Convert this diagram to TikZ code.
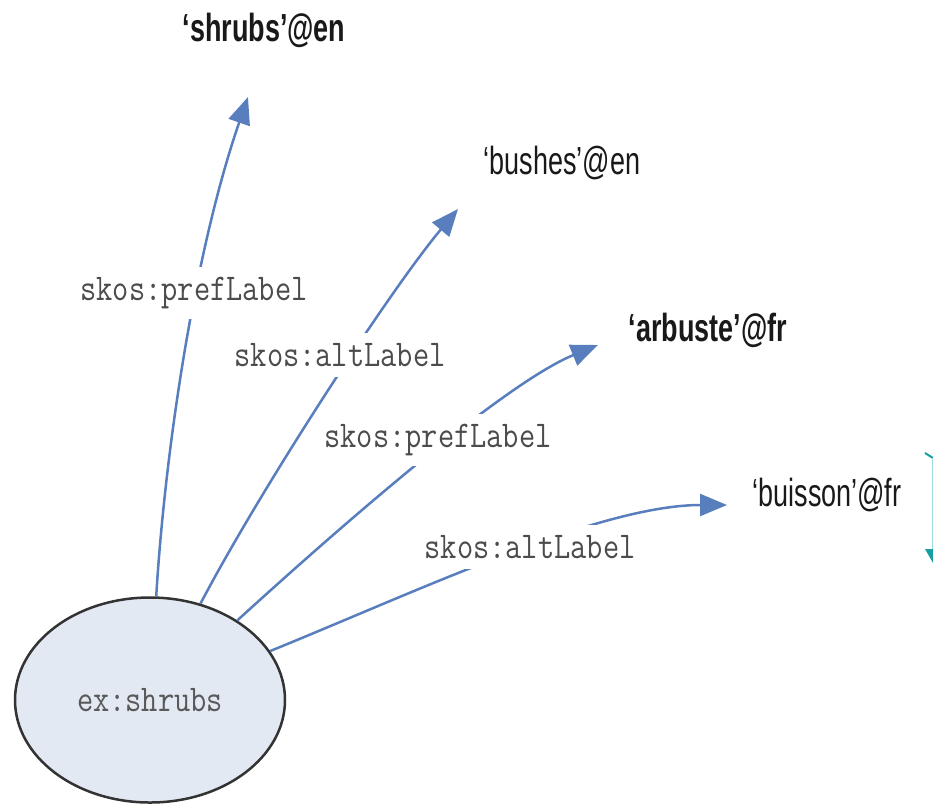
\documentclass[tikz,border=0pt]{standalone}
\usepackage{fontspec}
\setmainfont{Liberation Sans}
\usetikzlibrary{arrows.meta}
\usetikzlibrary{shapes.geometric}
\definecolor{edgeblue}{RGB}{88,126,190}
\definecolor{resfill}{RGB}{227,233,243}
\definecolor{cropteal}{RGB}{22,160,160}
\newcommand{\lit}[1]{\scalebox{1}[1.45]{#1}}
\newcommand{\prop}[1]{\scalebox{1}[1.2]{\ttfamily #1}}

\begin{document}
\begin{tikzpicture}[x=1pt,y=-1pt,>={Triangle[length=27pt,width=22pt]},
	edge/.style={->,draw=edgeblue,line width=2.5pt},
	lit/.style={
		text=black!90,
		font=\fontsize{27}{30}\selectfont,
		inner sep=2pt,
	},
	rel/.style={
		fill=white,
		text=black!70,
		font=\fontsize{31.5}{34}\selectfont,
		inner xsep=3pt,
		inner ysep=10pt,
	},
	res/.style={
		ellipse,
		draw=black!80,
		line width=2.5pt,
		fill=resfill,
		minimum width=270pt,
		minimum height=205pt,
		text=black!65,
		font=\fontsize{31.5}{34}\selectfont,
	},
]
	\useasboundingbox (0,0) rectangle (933,804);

	\node[res] (ex) at (150,700) {\prop{ex:shrubs}};

	\node[lit] (shrubs) at (264,30) {\lit{\bfseries ‘shrubs’@en}};
	\node[lit] (bushes) at (562,163) {\lit{‘bushes’@en}};
	\node[lit] (arbuste) at (708,330) {\lit{\bfseries ‘arbuste’@fr}};
	\node[lit] (buisson) at (827,495) {\lit{‘buisson’@fr}};

	% arrow tips below/left of the literals
	\coordinate (shrubs-in) at (248,97);
	\coordinate (bushes-in) at (458,209);
	\coordinate (arbuste-in) at (598,345);
	\coordinate (buisson-in) at (727,505);

	\draw[edge] (ex) .. controls (165,450) and (195,250) .. (shrubs-in);
	\draw[edge] (ex) .. controls (260,490) and (390,290) .. (bushes-in);
	\draw[edge] (ex) .. controls (320,545) and (500,385) .. (arbuste-in);
	\draw[edge] (ex) .. controls (420,590) and (600,505) .. (buisson-in);

	\node[rel] (pref-en) at (194,293) {\prop{skos:prefLabel}};
	\node[rel] (alt-en) at (340,355) {\prop{skos:altLabel}};
	\node[rel] (pref-fr) at (438,440) {\prop{skos:prefLabel}};
	\node[rel] (alt-fr) at (530,547) {\prop{skos:altLabel}};

	% cut-off shape at the right edge
	\draw[cropteal,line width=2pt] (925,453) -- (933,458);
	\draw[cropteal!40,line width=1pt] (932,458) -- (932,549);
	\fill[cropteal] (925,549) -- (933,549) -- (933,563) -- cycle;
%	\draw[draw=none] (ex) -- (buisson);
\end{tikzpicture}
\end{document}
